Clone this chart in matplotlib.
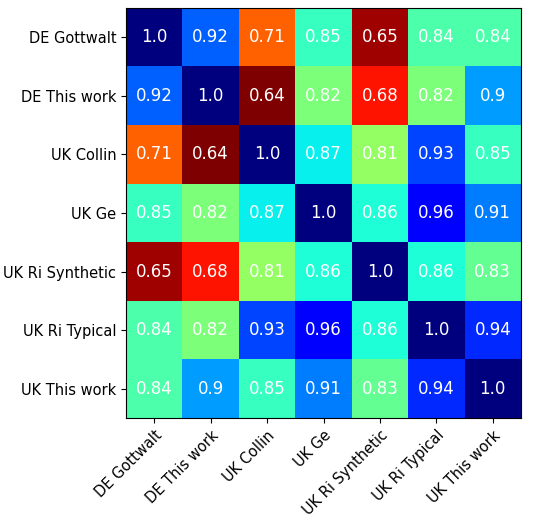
import numpy as np
import matplotlib
matplotlib.use("Agg")
import matplotlib.pyplot as plt

labels = ["DE Gottwalt", "DE This work", "UK Collin", "UK Ge",
          "UK Ri Synthetic", "UK Ri Typical", "UK This work"]

corr = np.array([
    [1.0, 0.92, 0.71, 0.85, 0.65, 0.84, 0.84],
    [0.92, 1.0, 0.64, 0.82, 0.68, 0.82, 0.9],
    [0.71, 0.64, 1.0, 0.87, 0.81, 0.93, 0.85],
    [0.85, 0.82, 0.87, 1.0, 0.86, 0.96, 0.91],
    [0.65, 0.68, 0.81, 0.86, 1.0, 0.86, 0.83],
    [0.84, 0.82, 0.93, 0.96, 0.86, 1.0, 0.94],
    [0.84, 0.9, 0.85, 0.91, 0.83, 0.94, 1.0],
])

fig = plt.figure(figsize=(5.5, 5.21), dpi=100)
ax = fig.add_axes([126 / 550, 1 - 418 / 521, 395 / 550, 410 / 521])
ax.imshow(corr, cmap="jet_r", aspect="auto")

for i in range(len(labels)):
    for j in range(len(labels)):
        ax.text(j, i, str(corr[i, j]), ha="center", va="center",
                color="white", fontsize=12)

ax.set_xticks(range(len(labels)))
ax.set_yticks(range(len(labels)))
ax.set_xticklabels(labels, rotation=45, ha="right", rotation_mode="anchor", fontsize=10.5)
ax.set_yticklabels(labels, fontsize=10.5)

fig.savefig("out.png", dpi=100)
